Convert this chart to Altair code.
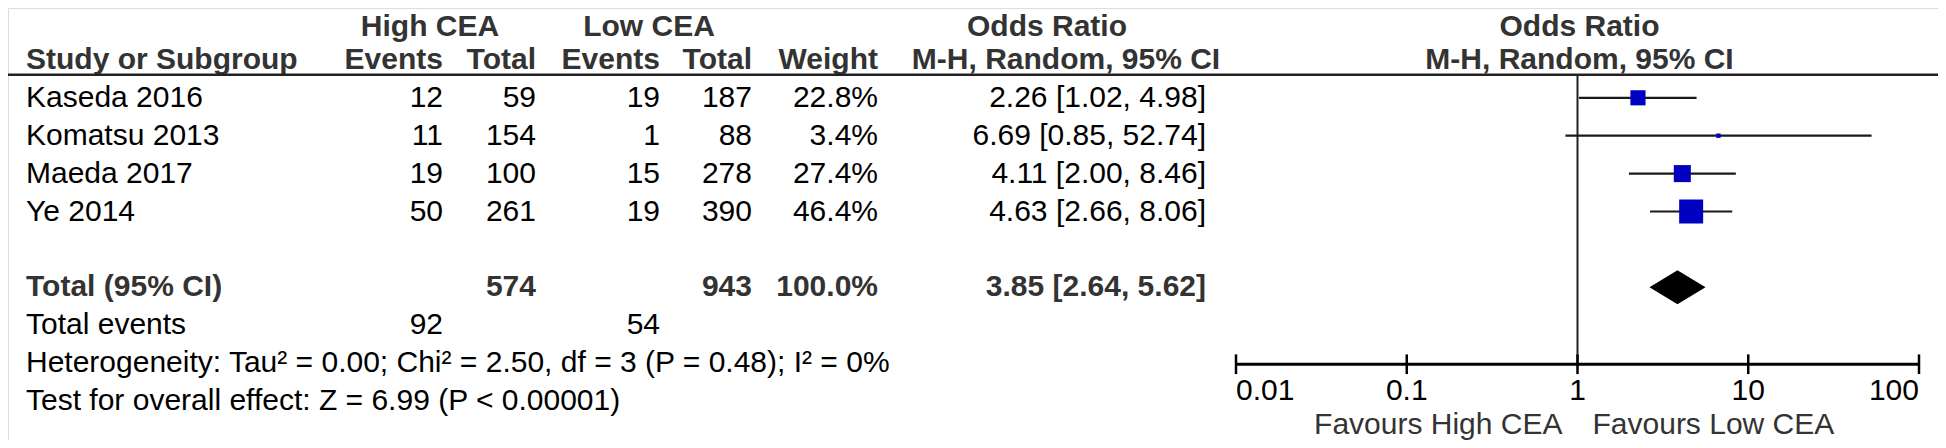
import altair as alt
import pandas as pd

# ---------------- data ----------------
studies = ["Kaseda 2016", "Komatsu 2013", "Maeda 2017", "Ye 2014"]
high_events = [12, 11, 19, 50]
high_total = [59, 154, 100, 261]
low_events = [19, 1, 15, 19]
low_total = [187, 88, 278, 390]
weights = [22.8, 3.4, 27.4, 46.4]
or_est = [2.26, 6.69, 4.11, 4.63]
or_lo = [1.02, 0.85, 2.00, 2.66]
or_hi = [4.98, 52.74, 8.46, 8.06]

total_label = "Total (95% CI)"
total_high = 574
total_low = 943
total_weight = 100.0
total_or = [3.85, 2.64, 5.62]  # est, lo, hi

events_label = "Total events"
events_high = 92
events_low = 54
het_text = "Heterogeneity: Tau² = 0.00; Chi² = 2.50, df = 3 (P = 0.48); I² = 0%"
test_text = "Test for overall effect: Z = 6.99 (P < 0.00001)"

tick_values = [0.01, 0.1, 1, 10, 100]
tick_labels = ["0.01", "0.1", "1", "10", "100"]
favours_left = "Favours High CEA"
favours_right = "Favours Low CEA"

group1 = "High CEA"
group2 = "Low CEA"
col_heads = ["Study or Subgroup", "Events", "Total", "Events", "Total", "Weight"]
or_head1 = "Odds Ratio"
or_head2 = "M-H, Random, 95% CI"

# ---------------- layout ----------------
W, H = 1930, 432
FONT = "Arial, Liberation Sans, Helvetica, sans-serif"
FS = 30
HEAD_COLOR = "#333333"
BLUE = "#0000C0"

R_HEAD1, R_HEAD2 = 0.14, 1.0
study_rows = [2, 3, 4, 5]
R_TOTAL, R_EVENTS, R_HET, R_TEST = 7, 8, 9, 10
R_HLINE = 1.39
R_AXIS = 9.03
R_TICKLAB = 9.74
R_FAV = 10.63
TICK_HALF = 0.26
DIAMOND_HALF = 0.45

X_STUDY = 18
X_E1, X_T1, X_E2, X_T2, X_W = 435, 528, 652, 744, 870
X_CI = 1198
X_G1, X_G2 = 422, 641
X_ORH1, X_ORH2 = 1039, 1058

# y: chart_y = 14 + 37.9 * row
Y_A, Y_B = 14.0, 37.9
yscale = alt.Scale(domain=[-Y_A / Y_B, (H - Y_A) / Y_B], reverse=True, nice=False, zero=False)
xscale = alt.Scale(type="log", domain=[0.01, 100], range=[1228, 1911], nice=False)


def Y(field="r"):
    return alt.Y(f"{field}:Q", scale=yscale, axis=None)


def X(field):
    return alt.X(f"{field}:Q", scale=xscale, axis=None)


def text_layer(df, field, x, align, bold=False, color="#000000", dx=0):
    return alt.Chart(df).mark_text(
        align=align, baseline="middle", font=FONT, fontSize=FS,
        fontWeight="bold" if bold else "normal", color=color, dx=dx
    ).encode(x=alt.value(x), y=Y(), text=alt.Text(f"{field}:N"))


sdf = pd.DataFrame({
    "r": study_rows,
    "study": studies,
    "he": [str(v) for v in high_events],
    "ht": [str(v) for v in high_total],
    "le": [str(v) for v in low_events],
    "lt": [str(v) for v in low_total],
    "wt": [f"{w:.1f}%" for w in weights],
    "ci": [f"{e:.2f} [{l:.2f}, {h:.2f}]" for e, l, h in zip(or_est, or_lo, or_hi)],
    "est": or_est, "lo": or_lo, "hi": or_hi, "w": weights,
})

layers = []

# headers
h1 = pd.DataFrame({"r": [R_HEAD1], "g1": [group1], "g2": [group2], "o": [or_head1]})
h2 = pd.DataFrame({"r": [R_HEAD2], "s": [col_heads[0]], "e1": [col_heads[1]], "t1": [col_heads[2]],
                   "e2": [col_heads[3]], "t2": [col_heads[4]], "w": [col_heads[5]], "o": [or_head2]})
layers += [
    text_layer(h1, "g1", X_G1, "center", True, HEAD_COLOR),
    text_layer(h1, "g2", X_G2, "center", True, HEAD_COLOR),
    text_layer(h1, "o", X_ORH1, "center", True, HEAD_COLOR),
    text_layer(h2, "s", X_STUDY, "left", True, HEAD_COLOR),
    text_layer(h2, "e1", X_E1, "right", True, HEAD_COLOR),
    text_layer(h2, "t1", X_T1, "right", True, HEAD_COLOR),
    text_layer(h2, "e2", X_E2, "right", True, HEAD_COLOR),
    text_layer(h2, "t2", X_T2, "right", True, HEAD_COLOR),
    text_layer(h2, "w", X_W, "right", True, HEAD_COLOR),
    text_layer(h2, "o", X_ORH2, "center", True, HEAD_COLOR),
]

# right-hand headers centred on OR = 1
rh = pd.DataFrame({"x": [1, 1], "r": [R_HEAD1, R_HEAD2], "t": [or_head1, or_head2]})
layers.append(
    alt.Chart(rh).mark_text(align="center", baseline="middle", font=FONT, fontSize=FS,
                            fontWeight="bold", color=HEAD_COLOR, dx=2)
    .encode(x=X("x"), y=Y(), text="t:N")
)

# header rule
layers.append(
    alt.Chart(pd.DataFrame({"r": [R_HLINE]})).mark_rule(strokeWidth=2.5, color="#222222")
    .encode(x=alt.value(0), x2=alt.value(W), y=Y())
)

# study rows
layers += [
    text_layer(sdf, "study", X_STUDY, "left"),
    text_layer(sdf, "he", X_E1, "right"),
    text_layer(sdf, "ht", X_T1, "right"),
    text_layer(sdf, "le", X_E2, "right"),
    text_layer(sdf, "lt", X_T2, "right"),
    text_layer(sdf, "wt", X_W, "right"),
    text_layer(sdf, "ci", X_CI, "right"),
]

# totals
tdf = pd.DataFrame({"r": [R_TOTAL], "lab": [total_label], "ht": [str(total_high)],
                    "lt": [str(total_low)], "wt": [f"{total_weight:.1f}%"],
                    "ci": [f"{total_or[0]:.2f} [{total_or[1]:.2f}, {total_or[2]:.2f}]"]})
layers += [
    text_layer(tdf, "lab", X_STUDY, "left", True, HEAD_COLOR),
    text_layer(tdf, "ht", X_T1, "right", True, HEAD_COLOR),
    text_layer(tdf, "lt", X_T2, "right", True, HEAD_COLOR),
    text_layer(tdf, "wt", X_W, "right", True, HEAD_COLOR),
    text_layer(tdf, "ci", X_CI, "right", True, HEAD_COLOR),
]
edf = pd.DataFrame({"r": [R_EVENTS], "lab": [events_label], "he": [str(events_high)], "le": [str(events_low)]})
layers += [
    text_layer(edf, "lab", X_STUDY, "left"),
    text_layer(edf, "he", X_E1, "right"),
    text_layer(edf, "le", X_E2, "right"),
]
ndf = pd.DataFrame({"r": [R_HET, R_TEST], "t": [het_text, test_text]})
layers.append(text_layer(ndf, "t", X_STUDY, "left"))

# null line
layers.append(
    alt.Chart(pd.DataFrame({"x": [1], "r": [R_HLINE], "r2": [R_AXIS]}))
    .mark_rule(strokeWidth=2, color="#222222")
    .encode(x=X("x"), y=Y(), y2="r2:Q")
)

# CI lines and squares
layers.append(
    alt.Chart(sdf).mark_rule(strokeWidth=2.2, color="#1a1a1a")
    .encode(x=X("lo"), x2="hi:Q", y=Y())
)
layers.append(
    alt.Chart(sdf).mark_square(color=BLUE, opacity=1)
    .encode(x=X("est"), y=Y(),
            size=alt.Size("w:Q", scale=alt.Scale(type="pow", exponent=1.3, domain=[0, 46.4], range=[0, 576]),
                          legend=None))
)

# diamond
ddf = pd.DataFrame({
    "x": [total_or[1], total_or[0], total_or[2]],
    "r": [R_TOTAL, R_TOTAL - DIAMOND_HALF, R_TOTAL],
    "r2": [R_TOTAL, R_TOTAL + DIAMOND_HALF, R_TOTAL],
})
layers.append(
    alt.Chart(ddf).mark_area(color="black", opacity=1, interpolate="linear")
    .encode(x=X("x"), y=Y(), y2="r2:Q")
)

# x axis
layers.append(
    alt.Chart(pd.DataFrame({"x": [tick_values[0]], "x2": [tick_values[-1]], "r": [R_AXIS]}))
    .mark_rule(strokeWidth=3, color="black")
    .encode(x=X("x"), x2="x2:Q", y=Y())
)
tdf2 = pd.DataFrame({"x": tick_values, "lab": tick_labels,
                     "r": [R_AXIS - TICK_HALF] * 5, "r2": [R_AXIS + TICK_HALF] * 5,
                     "rl": [R_TICKLAB] * 5})
layers.append(
    alt.Chart(tdf2).mark_rule(strokeWidth=2.5, color="black")
    .encode(x=X("x"), y=Y(), y2="r2:Q")
)
# flush labels: first left-aligned, last right-aligned, the rest centred
for part, align in ((tdf2.iloc[:1], "left"), (tdf2.iloc[1:-1], "center"), (tdf2.iloc[-1:], "right")):
    layers.append(
        alt.Chart(part).mark_text(align=align, baseline="middle", font=FONT, fontSize=FS, color="black")
        .encode(x=X("x"), y=Y("rl"), text="lab:N")
    )
fdf = pd.DataFrame({"x": [1], "r": [R_FAV], "a": [favours_left], "b": [favours_right]})
layers.append(
    alt.Chart(fdf).mark_text(align="right", baseline="middle", font=FONT, fontSize=FS, color=HEAD_COLOR, dx=-15)
    .encode(x=X("x"), y=Y(), text="a:N")
)
layers.append(
    alt.Chart(fdf).mark_text(align="left", baseline="middle", font=FONT, fontSize=FS, color=HEAD_COLOR, dx=15)
    .encode(x=X("x"), y=Y(), text="b:N")
)

chart = alt.layer(*layers).properties(
    width=W, height=H, padding=0,
    autosize=alt.AutoSizeParams(type="none"),
).configure_view(stroke=None).configure(background="white")

chart.save("out.html", embed_options={"renderer": "svg", "actions": False})
